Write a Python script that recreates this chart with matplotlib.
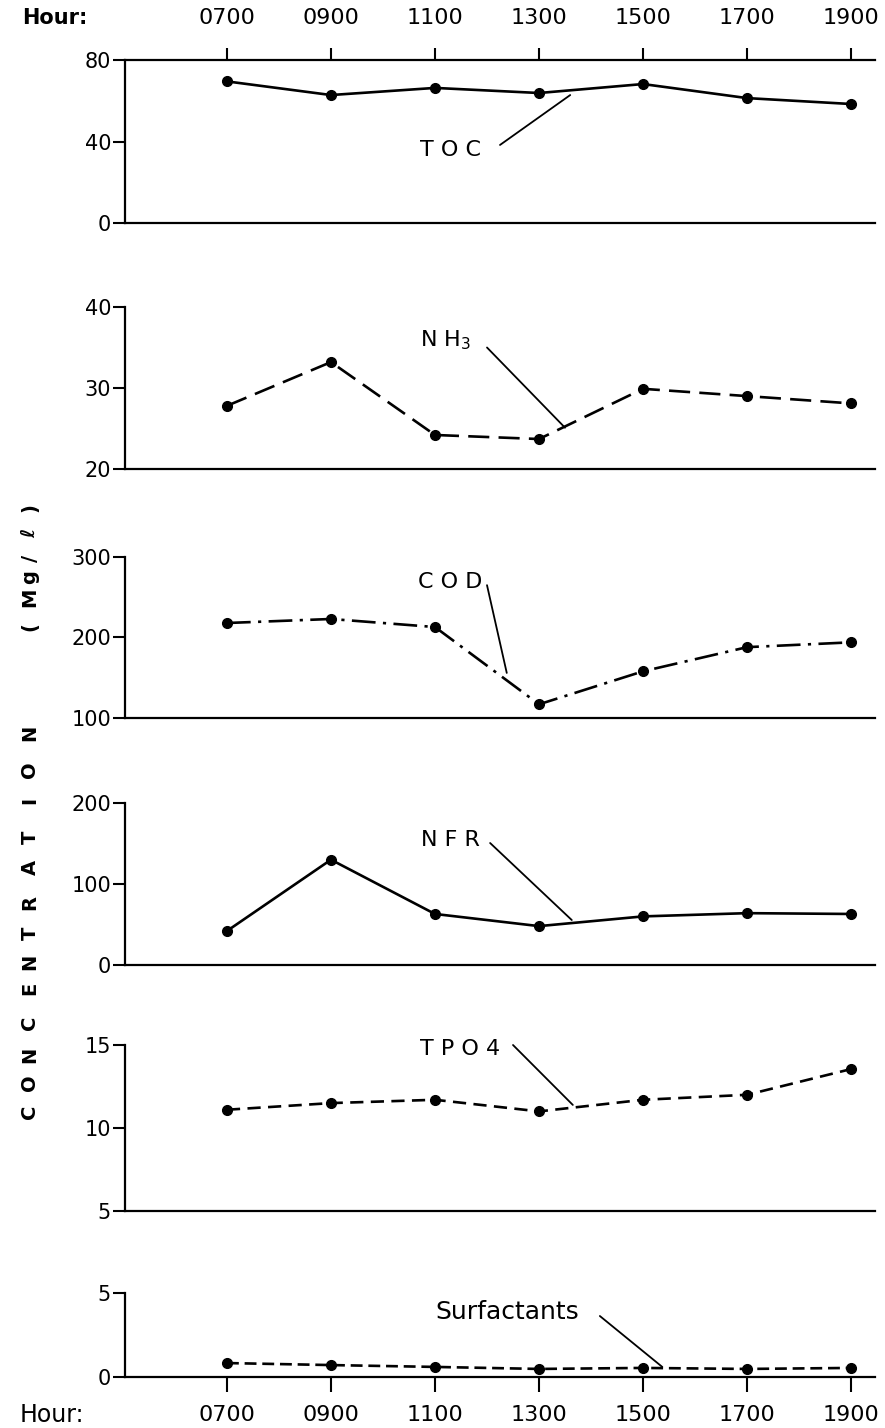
import matplotlib
matplotlib.use("Agg")
import matplotlib.pyplot as plt

hours = [7, 9, 11, 13, 15, 17, 19]
hour_labels = ["0700", "0900", "1100", "1300", "1500", "1700", "1900"]

toc = [69.5, 62.8, 66.3, 63.8, 68.2, 61.3, 58.4]
nh3 = [27.8, 33.2, 24.2, 23.7, 29.9, 29.0, 28.1]
cod = [218, 223, 213, 117, 158, 188, 194]
nfr = [42, 130, 63, 48, 60, 64, 63]
tpo4 = [11.1, 11.5, 11.7, 11.0, 11.7, 12.0, 13.55]
surf = [0.83, 0.71, 0.6, 0.48, 0.54, 0.48, 0.54]

W, H = 885, 1428
fig = plt.figure(figsize=(W / 100, H / 100), dpi=100)
plt.rcParams['font.family'] = ['DejaVu Sans']

XL = (5.04, 19.46)

def panel(top, bot, ylim, yticks):
    ax = fig.add_axes([125 / W, 1 - bot / H, 750 / W, (bot - top) / H])
    ax.set_xlim(*XL)
    ax.set_ylim(*ylim)
    for s in ['right', 'top']:
        ax.spines[s].set_visible(False)
    for s in ['left', 'bottom']:
        ax.spines[s].set_linewidth(1.6)
    ax.set_yticks(yticks)
    ax.set_yticklabels([str(t) for t in yticks])
    ax.tick_params(axis='y', direction='out', length=9, width=1.5, pad=1, labelsize=15)
    ax.set_xticks([])
    ax.patch.set_alpha(0)
    return ax

def series(ax, y, **kw):
    ax.plot(hours, y, color='black', lw=1.9, marker='o', ms=7, mfc='black',
            mec='black', clip_on=False, **kw)

def label(ax, txt, xt, yt, x0, y0, x1, y1, ha='center', size=16):
    ax.text(xt, yt, txt, fontsize=size, ha=ha, va='center')
    ax.annotate('', xy=(x1, y1), xytext=(x0, y0),
                arrowprops=dict(arrowstyle='-', lw=1.3, color='black',
                                shrinkA=0, shrinkB=0), annotation_clip=False)

# Panel 1: TOC
ax1 = panel(60, 223, (0, 80), [0, 40, 80])
ax1.spines['top'].set_visible(True)
ax1.spines['top'].set_linewidth(1.6)
ax1.set_xticks(hours)
ax1.set_xticklabels(hour_labels)
ax1.tick_params(axis='x', top=True, labeltop=True, bottom=False, labelbottom=False,
                direction='out', length=9, width=1.5, pad=14, labelsize=16)
series(ax1, toc)
label(ax1, "T O C", 11.29, 35.8, 12.25, 38.3, 13.6, 62.8)

# Panel 2: NH3
ax2 = panel(307, 469, (20, 40), [20, 30, 40])
series(ax2, nh3, dashes=(8, 3.5))
label(ax2, r"N H$_{\mathregular{3}}$", 11.2, 35.9, 12.0, 35.0, 13.5, 25.1)

# Panel 3: COD
ax3 = panel(557, 718, (100, 300), [100, 200, 300])
series(ax3, cod, dashes=(9, 2.8, 1.2, 2.8))
label(ax3, "C O D", 11.29, 269, 12.0, 265, 12.38, 156)

# Panel 4: NFR
ax4 = panel(803, 965, (0, 200), [0, 100, 200])
series(ax4, nfr)
label(ax4, "N F R", 11.29, 154, 12.06, 150.6, 13.63, 55.5)

# Panel 5: TPO4
ax5 = panel(1045, 1211, (5, 15), [5, 10, 15])
series(ax5, tpo4, dashes=(5, 2.8))
label(ax5, "T P O 4", 11.48, 14.75, 12.5, 15.0, 13.65, 11.39)

# Panel 6: Surfactants
ax6 = panel(1293, 1377, (0, 5), [0, 5])
ax6.set_xticks(hours)
ax6.set_xticklabels(hour_labels)
ax6.tick_params(axis='x', direction='out', length=11, width=1.5, pad=9, labelsize=16)
series(ax6, surf, dashes=(4.5, 2.2))
label(ax6, "Surfactants", 12.38, 3.87, 14.17, 3.63, 15.37, 0.6, size=18)

# Hour labels
fig.text(22 / W, 1 - 18 / H, "Hour:", fontsize=15, fontweight='bold', va='center', ha='left')
fig.text(20 / W, 1 - 1415 / H, "Hour:", fontsize=17, ha='left', va='center')

# Vertical y label, letter by letter
ylab_chars = list("CONCENTRATION") + ["(", "M", "g", "/", "ℓ", ")"]
ylab_pos = [1112, 1083, 1055, 1023, 988, 962, 933, 903, 867, 837, 800, 770, 733,
            627, 597, 577, 558, 533, 508]
for ch, py in zip(ylab_chars, ylab_pos):
    fig.text(30 / W, 1 - py / H, ch, rotation=90, fontsize=14, fontweight='bold',
             ha='center', va='center')

fig.savefig("out.png", dpi=100)
